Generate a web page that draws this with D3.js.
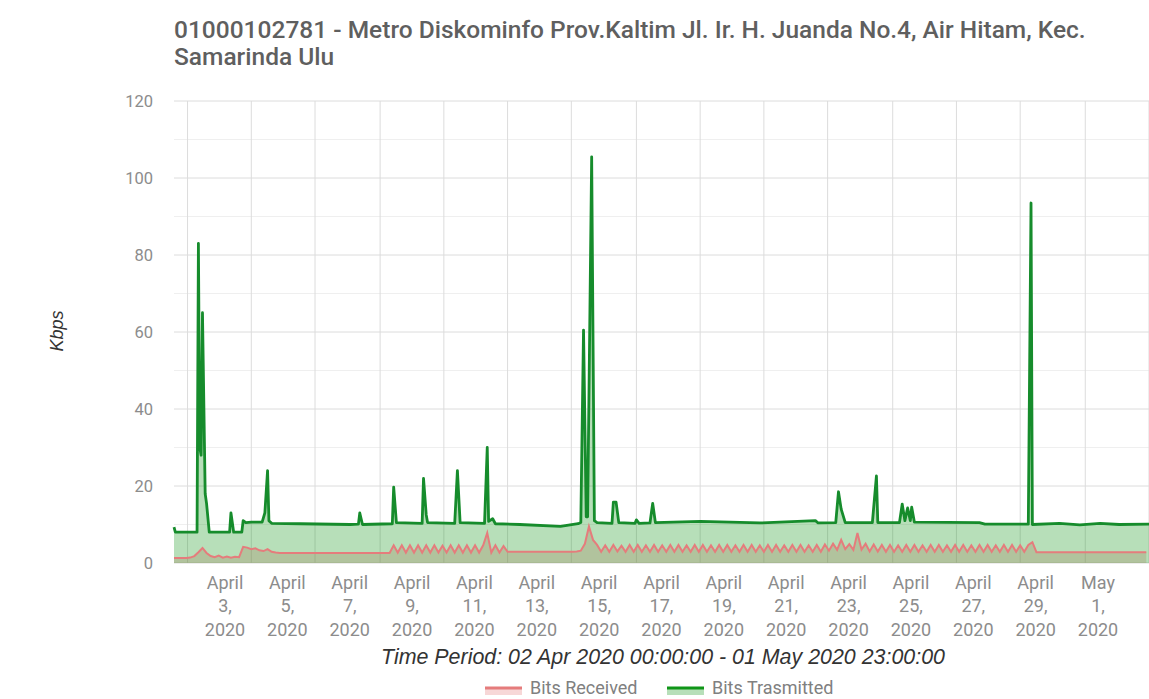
<!DOCTYPE html>
<html>
<head>
<meta charset="utf-8">
<script src="https://cdn.jsdelivr.net/npm/d3@7"></script>
<style>
  body { margin: 0; background: #fff; font-family: Roboto, "Noto Sans", sans-serif; }
</style>
</head>
<body>
<svg id="chart" width="1149" height="699"></svg>
<script>
// Title and axis texts
const titleLines = [
    "01000102781 - Metro Diskominfo Prov.Kaltim Jl. Ir. H. Juanda No.4, Air Hitam, Kec.",
    "Samarinda Ulu"
];
const periodText = "Time Period: 02 Apr 2020 00:00:00 - 01 May 2020 23:00:00";
const yTitle = "Kbps";
const seriesNames = ["Bits Received", "Bits Trasmitted"];

const yTicks = [0, 20, 40, 60, 80, 100, 120];
const yMinor = [10, 30, 50, 70, 90, 110];
const labelDates = ["2020-04-03", "2020-04-05", "2020-04-07", "2020-04-09", "2020-04-11",
    "2020-04-13", "2020-04-15", "2020-04-17", "2020-04-19", "2020-04-21", "2020-04-23",
    "2020-04-25", "2020-04-27", "2020-04-29", "2020-05-01"];
// vertical gridlines, hours after the start of the period
const gridHours = [10, 57, 104, 152, 199, 246, 293, 341, 388, 435, 482, 530, 577, 624, 672, 719];

// Bits Trasmitted: [hours after 02 Apr 00:00, Kbps]
const transmitted = [
    [0, 9.3], [1, 8], [17, 8], [18, 83], [19, 30], [20, 28], [21, 65], [23, 18], [24, 15.5], [26, 8],
    [41, 8], [42, 13], [44, 8], [50, 8], [51, 11], [53, 10.5], [57, 10.6], [65, 10.6], [67, 13],
    [69, 24], [70, 11], [72, 10.3], [93, 10.2], [130, 10], [136, 10.1], [137, 13], [139, 10],
    [161, 10.2], [162, 19.7], [164, 10.5], [183, 10.3], [184, 22], [186, 12.5], [187, 10.5],
    [207, 10.3], [209, 24], [211, 10.5], [229, 10.3], [231, 30], [232, 10.8], [235, 11.5],
    [237, 10.2], [255, 10], [285, 9.5], [298, 10.2], [300, 10.5], [302, 60.5], [304, 12],
    [305, 12], [308, 105.5], [310, 11], [312, 10.5], [323, 10.3], [324, 15.8], [326, 15.8],
    [328, 10.5], [340, 10.3], [341, 11.2], [343, 10.3], [351, 10.4], [353, 15.5], [355, 10.5],
    [388, 10.8], [432, 10.4], [473, 11], [475, 10.4], [488, 10.5], [490, 18.5], [492, 14],
    [495, 10.5], [515, 10.5], [518, 22.6], [519, 10.5], [535, 10.5], [537, 15.3], [539, 11],
    [541, 14.3], [543, 11], [544, 14.5], [546, 10.6], [594, 10.5], [598, 10.1], [630, 10.1],
    [632, 93.5], [633, 10], [653, 10.3], [668, 9.9], [683, 10.3], [697, 10], [719, 10.1]
];

// Bits Received: one value every 3 hours, one row per day (02 Apr .. 01 May)
const receivedStepHours = 3;
const received = [
    1.3, 1.3, 1.3, 1.3, 1.4, 1.8, 2.8, 3.9,
    2.6, 1.8, 1.5, 1.9, 1.4, 1.7, 1.4, 1.6,
    1.5, 4.2, 4.0, 3.6, 3.8, 3.3, 3.1, 3.6,
    2.9, 2.7, 2.6, 2.6, 2.6, 2.6, 2.6, 2.6,
    2.6, 2.6, 2.6, 2.6, 2.6, 2.6, 2.6, 2.6,
    2.6, 2.6, 2.6, 2.6, 2.6, 2.6, 2.6, 2.6,
    2.6, 2.6, 2.6, 2.6, 2.6, 2.6, 4.6, 2.7,
    4.6, 2.7, 4.6, 2.7, 4.6, 2.7, 4.6, 2.7,
    4.6, 2.7, 4.5, 2.7, 4.6, 2.7, 4.6, 2.7,
    4.6, 2.7, 4.6, 2.7, 4.6, 7.8, 2.7, 4.6,
    2.7, 4.4, 2.9, 2.9, 2.9, 2.9, 2.9, 2.9,
    2.9, 2.9, 2.9, 2.9, 2.9, 2.9, 2.9, 2.9,
    2.9, 2.9, 2.9, 3.0, 3.2, 5.0, 9.5, 6.0,
    4.7, 2.9, 4.6, 2.9, 4.7, 3.0, 4.5, 2.9,
    4.7, 2.9, 4.7, 2.9, 4.6, 2.9, 4.7, 2.9,
    4.6, 2.9, 4.7, 2.9, 4.7, 2.9, 4.6, 2.9,
    4.7, 2.9, 4.7, 2.9, 4.6, 2.9, 4.7, 2.9,
    4.7, 2.9, 4.6, 2.9, 4.7, 2.9, 4.7, 2.9,
    4.6, 2.9, 4.7, 2.9, 4.7, 2.9, 4.6, 2.9,
    4.7, 2.9, 4.7, 2.9, 4.6, 2.9, 4.7, 2.9,
    4.8, 3.2, 5.0, 3.4, 6.0, 3.6, 4.9, 3.4,
    7.8, 3.5, 5.0, 3.0, 4.8, 3.0, 4.7, 2.9,
    4.7, 2.9, 4.6, 2.9, 4.7, 2.9, 4.7, 2.9,
    4.6, 2.9, 4.7, 2.9, 4.7, 2.9, 4.6, 2.9,
    4.7, 2.9, 4.7, 2.9, 4.6, 2.9, 4.7, 2.9,
    4.7, 2.9, 4.6, 2.9, 4.7, 2.9, 4.7, 2.9,
    4.6, 2.9, 4.7, 5.4, 2.8, 2.8, 2.8, 2.8,
    2.8, 2.8, 2.8, 2.8, 2.8, 2.8, 2.8, 2.8,
    2.8, 2.8, 2.8, 2.8, 2.8, 2.8, 2.8, 2.8,
    2.8, 2.8, 2.8, 2.8, 2.8, 2.8, 2.8, 2.8
];

const start = new Date(2020, 3, 2, 0, 0);
const end = new Date(2020, 4, 1, 23, 0);
const hoursToDate = h => d3.timeHour.offset(start, h);

const green = "#109618", red = "#e57c7c";
const arial = "'Liberation Sans', Arial, sans-serif";

const svg = d3.select("#chart");
const plotLeft = 174, plotRight = 1149, plotTop = 101, plotBottom = 563;

const x = d3.scaleTime().domain([start, end]).range([plotLeft, plotRight]);
const y = d3.scaleLinear().domain([0, 120]).range([plotBottom, plotTop]);
// axis labels are laid out on their own date scale
const labelX = d3.scaleTime()
    .domain([new Date(2020, 3, 3), new Date(2020, 4, 1)])
    .range([225, 1098]);

// Gridlines
const grid = svg.append("g");
grid.selectAll(".minor").data(yMinor).enter().append("line")
    .attr("x1", plotLeft).attr("x2", plotRight)
    .attr("y1", d => y(d)).attr("y2", d => y(d))
    .attr("stroke", "#efefef").attr("stroke-width", 1);
grid.selectAll(".major").data(yTicks).enter().append("line")
    .attr("x1", plotLeft).attr("x2", plotRight)
    .attr("y1", d => y(d)).attr("y2", d => y(d))
    .attr("stroke", "#dcdcdc").attr("stroke-width", 1);
grid.selectAll(".vert").data(gridHours).enter().append("line")
    .attr("x1", d => x(hoursToDate(d))).attr("x2", d => x(hoursToDate(d)))
    .attr("y1", plotTop).attr("y2", plotBottom)
    .attr("stroke", "#dcdcdc").attr("stroke-width", 1);

// Y tick labels
svg.append("g").selectAll("text").data(yTicks).enter().append("text")
    .attr("x", 153).attr("y", d => y(d)).attr("dy", "0.35em")
    .attr("text-anchor", "end")
    .attr("font-size", 16.5).attr("fill", "#8c8c8c")
    .text(d => d);

// Series
const recData = received.map((v, i) => ({ t: hoursToDate(i * receivedStepHours), v }));
const trData = transmitted.map(d => ({ t: hoursToDate(d[0]), v: d[1] }));

const area = d3.area().x(d => x(d.t)).y0(y(0)).y1(d => y(d.v));
const line = d3.line().x(d => x(d.t)).y(d => y(d.v));

svg.append("path").datum(recData).attr("d", area)
    .attr("fill", red).attr("fill-opacity", 0.3);
svg.append("path").datum(trData).attr("d", area)
    .attr("fill", green).attr("fill-opacity", 0.3);
svg.append("path").datum(recData).attr("d", line)
    .attr("fill", "none").attr("stroke", red).attr("stroke-width", 2);
svg.append("path").datum(trData).attr("d", line)
    .attr("fill", "none").attr("stroke", "#168c2c").attr("stroke-width", 2.8)
    .attr("stroke-linejoin", "round");

// X labels, three lines each
const fmtMonth = d3.timeFormat("%B"), fmtDay = d3.timeFormat("%-d,"), fmtYear = d3.timeFormat("%Y");
const xl = svg.append("g").selectAll("text").data(labelDates.map(d3.timeParse("%Y-%m-%d")))
    .enter().append("text")
    .attr("text-anchor", "middle")
    .attr("font-size", 18).attr("fill", "#8c8c8c");
xl.append("tspan").attr("x", d => labelX(d)).attr("y", 589).text(fmtMonth);
xl.append("tspan").attr("x", d => labelX(d)).attr("y", 612).text(fmtDay);
xl.append("tspan").attr("x", d => labelX(d)).attr("y", 636).text(fmtYear);

// Title
svg.append("g").selectAll("text").data(titleLines).enter().append("text")
    .attr("x", plotLeft).attr("y", (d, i) => 38 + i * 27)
    .attr("font-size", 24.5).attr("font-weight", 500).attr("fill", "#5f5f5f")
    .text(d => d);

// Axis titles
svg.append("text")
    .attr("x", 663).attr("y", 664)
    .attr("text-anchor", "middle")
    .attr("font-family", arial)
    .attr("font-size", 21.4).attr("font-style", "italic").attr("fill", "#333")
    .text(periodText);
svg.append("text")
    .attr("transform", "translate(63,331) rotate(-90)")
    .attr("text-anchor", "middle")
    .attr("font-family", arial)
    .attr("font-size", 18).attr("font-style", "italic").attr("fill", "#333")
    .text(yTitle);

// Legend
const legendItems = [
    { name: seriesNames[0], color: red, x: 485 },
    { name: seriesNames[1], color: green, x: 667 }
];
const lg = svg.append("g").selectAll("g").data(legendItems).enter().append("g")
    .attr("transform", d => `translate(${d.x},0)`);
lg.append("rect").attr("x", 0).attr("y", 688).attr("width", 37).attr("height", 7)
    .attr("fill", d => d.color).attr("fill-opacity", 0.3);
lg.append("line").attr("x1", 0).attr("x2", 37).attr("y1", 688).attr("y2", 688)
    .attr("stroke", d => d.color).attr("stroke-width", 3);
lg.append("text").attr("x", 45).attr("y", 694)
    .attr("font-size", 18).attr("fill", "#808080")
    .text(d => d.name);
</script>
</body>
</html>
